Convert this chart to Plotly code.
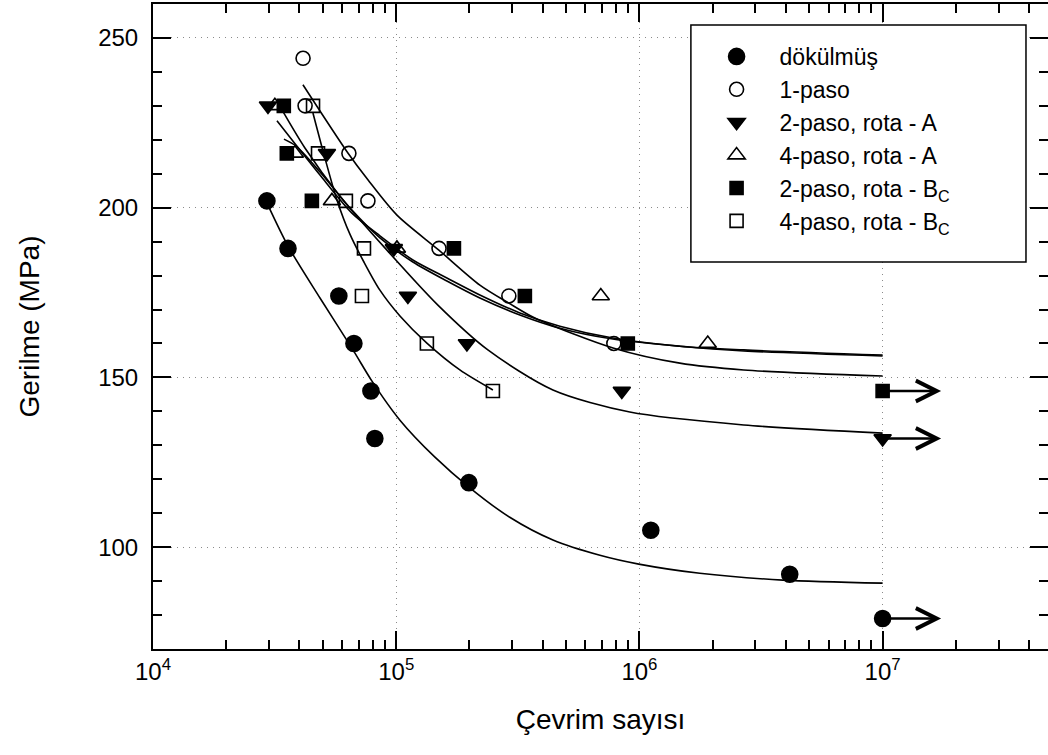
import math
import plotly.graph_objects as go

# ---------------- measured S-N data (cycles, stress in MPa) ----------------
dokulmus_N = [29400, 35900, 58100, 67000, 78700, 81700, 199000, 1114000, 4150000, 10000000]
dokulmus_S = [202, 188, 174, 160, 146, 132, 119, 105, 92, 79]

paso1_N = [41400, 42200, 63900, 76500, 150000, 290500, 785000]
paso1_S = [244, 230, 216, 202, 188, 174, 160]

paso2A_N = [29700, 51900, 97800, 111700, 195300, 846500, 10000000]
paso2A_S = [230, 216, 188, 174, 160, 146, 132]

paso4A_N = [31700, 38300, 54400, 100700, 693800, 1910000]
paso4A_S = [230, 216, 202, 188, 174, 160]

paso2Bc_N = [34500, 35500, 45000, 172700, 338100, 896000, 10000000]
paso2Bc_S = [230, 216, 202, 188, 174, 160, 146]

paso4Bc_N = [45500, 47700, 62100, 73700, 72300, 133700, 249800]
paso4Bc_S = [230, 216, 202, 188, 174, 160, 146]

# ---------------- fitted trend curves ----------------
fit_dokulmus_N = [29400, 35900, 48600, 66400, 79500, 103600, 144300, 199000, 293000,
                  441000, 688000, 994000, 1771000, 3885000, 10000000]
fit_dokulmus_S = [201.4, 188.7, 173.4, 158.1, 148.9, 137.4, 126.5, 117.7, 108.8,
                  102.1, 97.6, 95.0, 92.3, 90.3, 89.4]

fit_paso1_N = [41350, 63300, 76500, 100700, 149800, 220800, 290500, 371600, 785000,
               1466000, 2686000, 10000000]
fit_paso1_S = [236.2, 216.1, 208.2, 197.8, 187.5, 177.2, 171.9, 167.5, 158.6,
               154.2, 152.2, 150.4]

fit_paso2A_N = [32340, 42140, 58700, 91600, 148400, 238200, 441000, 913000, 2686000, 10000000]
fit_paso2A_S = [231.4, 217.6, 203.4, 187.5, 171.3, 158.1, 146.3, 139.8, 136.0, 133.6]

fit_paso4A_N = [32340, 40190, 48600, 65750, 85700, 117100, 161600, 220800, 322400,
                470900, 777500, 1466000, 2686000, 10000000]
fit_paso4A_S = [225.6, 217.0, 209.6, 198.4, 191.7, 184.6, 179.3, 174.3, 169.0,
                165.1, 161.6, 159.2, 158.1, 156.6]

fit_paso2Bc_N = [34550, 38710, 48600, 65750, 85700, 117100, 161600, 220800, 322400,
                 470900, 777500, 1466000, 2686000, 10000000]
fit_paso2Bc_S = [220.2, 218.2, 210.5, 199.3, 191.1, 184.0, 178.4, 173.4, 168.4,
                 164.5, 161.3, 159.2, 157.8, 156.3]

fit_paso4Bc_N = [45460, 50930, 57050, 64510, 73660, 85700, 103600, 133700, 182700, 249800]
fit_paso4Bc_S = [227.9, 214.6, 202.3, 192.2, 184.0, 175.7, 168.1, 160.1, 152.2, 146.3]

# ---------------- run-outs (unbroken specimens) ----------------
runout_S = [79, 132, 146]
runout_start_N = 10000000
runout_tip_N = 17400000

# ---------------- axis ticks ----------------
x_range_log = [4, 7.68]
y_range = [70, 260]
x_tickvals = [1e4, 1e5, 1e6, 1e7]
x_ticktext = ["10<sup>4</sup>", "10<sup>5</sup>", "10<sup>6</sup>", "10<sup>7</sup>"]
y_tickvals = [100, 150, 200, 250]

FONT = "Liberation Sans, Arial, sans-serif"
NARROW = "Liberation Sans Narrow, Arial Narrow, Liberation Sans, Arial, sans-serif"

fig = go.Figure()

fits = [
    (fit_dokulmus_N, fit_dokulmus_S),
    (fit_paso1_N, fit_paso1_S),
    (fit_paso2A_N, fit_paso2A_S),
    (fit_paso4A_N, fit_paso4A_S),
    (fit_paso2Bc_N, fit_paso2Bc_S),
    (fit_paso4Bc_N, fit_paso4Bc_S),
]
for n, s in fits:
    fig.add_trace(go.Scatter(
        x=n, y=s, mode="lines", showlegend=False, hoverinfo="skip",
        line=dict(color="black", width=1.6, shape="spline", smoothing=0.8),
    ))

series = [
    ("dökülmüş", dokulmus_N, dokulmus_S, "circle", 16),
    ("1-paso", paso1_N, paso1_S, "circle-open", 14),
    ("2-paso, rota - A", paso2A_N, paso2A_S, "triangle-down", 15),
    ("4-paso, rota - A", paso4A_N, paso4A_S, "triangle-up-open", 15),
    ("2-paso, rota - B<sub>C</sub>", paso2Bc_N, paso2Bc_S, "square", 13),
    ("4-paso, rota - B<sub>C</sub>", paso4Bc_N, paso4Bc_S, "square-open", 13),
]
for name, n, s, sym, size in series:
    fig.add_trace(go.Scatter(
        x=n, y=s, mode="markers", name=name,
        marker=dict(symbol=sym, size=size, color="black",
                    line=dict(color="black", width=1.6)),
    ))

# transparent copy of one series that carries the mirrored top / right axes
fig.add_trace(go.Scatter(x=dokulmus_N, y=dokulmus_S, xaxis="x2", yaxis="y2",
                         mode="markers", marker=dict(opacity=0),
                         showlegend=False, hoverinfo="skip"))

for s in runout_S:
    fig.add_annotation(
        x=math.log10(runout_tip_N), y=s, xref="x", yref="y",
        ax=math.log10(runout_start_N), ay=s, axref="x", ayref="y",
        text="", showarrow=True, arrowhead=5, arrowsize=1.7, arrowwidth=2.4,
        arrowcolor="black", standoff=0, startstandoff=0,
    )

tick_style = dict(ticks="inside", ticklen=18, tickwidth=1.5, tickcolor="black",
                  showline=True, linewidth=2, linecolor="black", zeroline=False)
grid_style = dict(showgrid=True, gridcolor="#8a8a8a", griddash="1px,5px", gridwidth=1)
x_minor = dict(ticks="inside", ticklen=9, tickwidth=1.5, tickcolor="black",
               dtick="D1", showgrid=False)
y_minor = dict(ticks="inside", ticklen=9, tickwidth=1.5, tickcolor="black",
               dtick=10, tick0=0, showgrid=False)

fig.update_layout(
    xaxis=dict(
        type="log", range=x_range_log,
        tickmode="array", tickvals=x_tickvals, ticktext=x_ticktext,
        tickfont=dict(family=NARROW, size=24),
        minor=x_minor,
        title=dict(text="Çevrim sayısı", font=dict(family=NARROW, size=28), standoff=26),
        **tick_style, **grid_style,
    ),
    yaxis=dict(
        range=y_range,
        tickmode="array", tickvals=y_tickvals,
        tickfont=dict(family=FONT, size=24), ticklabelstandoff=8,
        minor=y_minor,
        title=dict(text="Gerilme (MPa)", font=dict(family=NARROW, size=28), standoff=50),
        **tick_style, **grid_style,
    ),
    xaxis2=dict(
        type="log", range=x_range_log, overlaying="x", side="top", anchor="y2",
        tickmode="array", tickvals=x_tickvals, showticklabels=False,
        minor=x_minor, showgrid=False, **tick_style,
    ),
    yaxis2=dict(
        range=y_range, overlaying="y", side="right", anchor="x2",
        tickmode="array", tickvals=y_tickvals, showticklabels=False,
        minor=y_minor, showgrid=False, **tick_style,
    ),
    width=1048, height=755,
    margin=dict(l=153, r=0, t=4, b=106),
    paper_bgcolor="white", plot_bgcolor="white",
    font=dict(family=FONT, color="black", size=24),
    showlegend=True,
    legend=dict(
        x=0.604, y=0.952, xanchor="left", yanchor="top",
        bgcolor="rgba(0,0,0,0)", borderwidth=0,
        font=dict(family=FONT, size=23, color="black"),
        itemwidth=76,
    ),
    shapes=[dict(
        type="rect", xref="paper", yref="paper",
        x0=0.601, x1=0.9754, y0=0.600, y1=0.9674,
        line=dict(color="black", width=1.5), fillcolor="white", layer="above",
    )],
)

fig.write_html("out.html")
